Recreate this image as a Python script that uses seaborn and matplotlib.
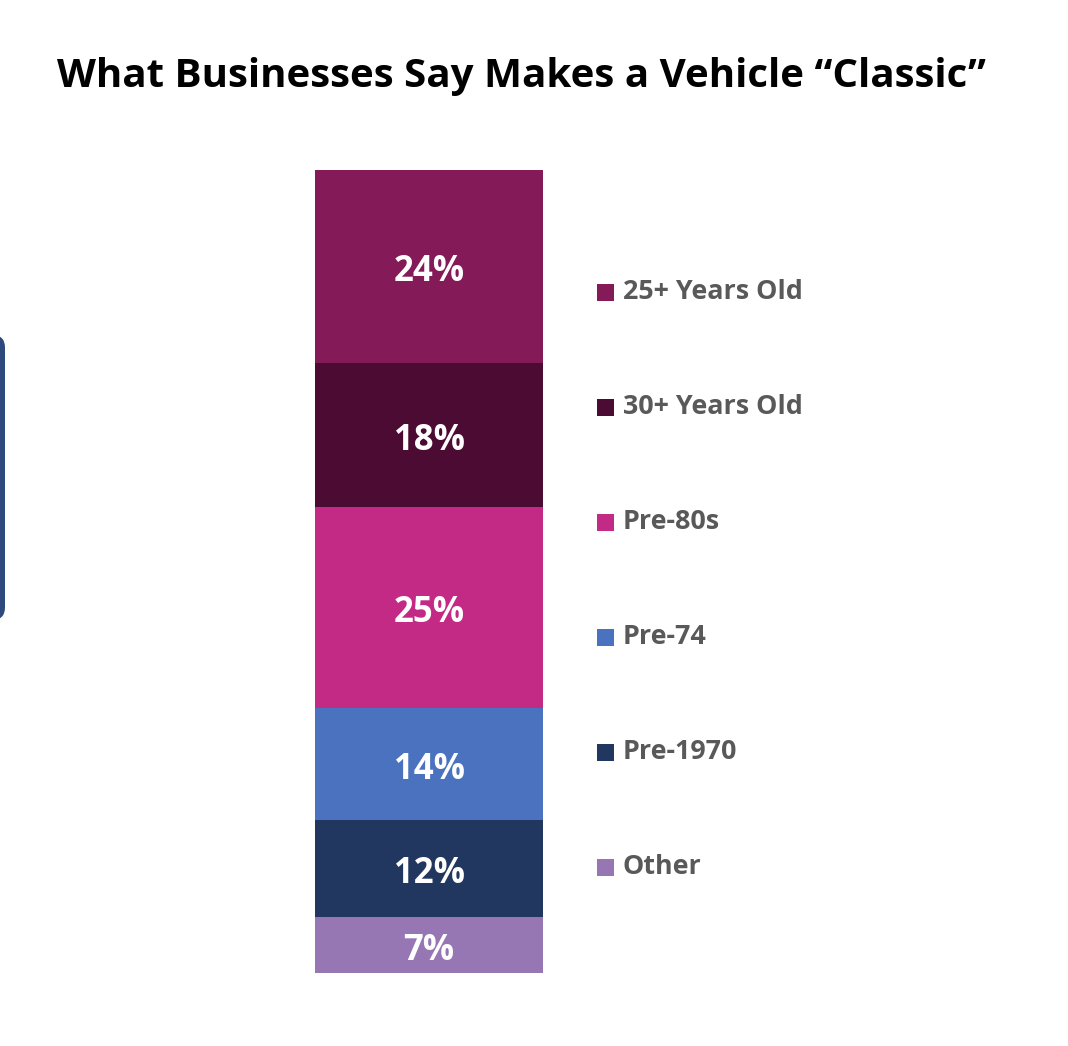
import matplotlib
matplotlib.use("Agg")
import matplotlib.pyplot as plt
from matplotlib.patches import FancyBboxPatch, Rectangle
import seaborn as sns
import pandas as pd
import numpy as np

# Data (bottom to top of the stack)
categories = ["Other", "Pre-1970", "Pre-74", "Pre-80s", "30+ Years Old", "25+ Years Old"]
values = [7, 12, 14, 25, 18, 24]
colors = ["#9677B4", "#22375F", "#4A72BE", "#C22A86", "#4C0B32", "#841A57"]
title = "What Businesses Say Makes a Vehicle \u201cClassic\u201d"

sns.set_theme(style="white")
plt.rcParams["font.family"] = ["Open Sans", "DejaVu Sans"]

W, H = 1068, 1046
fig = plt.figure(figsize=(W / 100, H / 100), dpi=100)

# Bar axes placed in pixel coordinates
bx0, bx1, by0, by1 = 315, 543, 170, 973
ax = fig.add_axes([bx0 / W, 1 - by1 / H, (bx1 - bx0) / W, (by1 - by0) / H])

cum = np.cumsum(values)
df = pd.DataFrame({"x": ["Classic"] * len(values), "top": cum, "cat": categories})
# draw cumulative bars from the tallest to the shortest so each overlays the previous
for i in range(len(values) - 1, -1, -1):
    sns.barplot(data=df.iloc[[i]], x="x", y="top", color=colors[i], width=1.0,
                saturation=1, ax=ax, linewidth=0, edgecolor="none")

ax.set_xlim(-0.5, 0.5)
ax.set_ylim(0, 100)
ax.axis("off")

bottoms = cum - np.array(values)
for v, b in zip(values, bottoms):
    ax.text(0, b + v / 2 - 0.7, f"{v}%", ha="center", va="center", color="white",
            fontsize=25, fontweight="bold")

# Legend (top to bottom)
leg_y = [292, 407, 522, 637, 752, 867]
for lab, col, y in zip(categories[::-1], colors[::-1], leg_y):
    fig.patches.append(Rectangle((597 / W, 1 - (y + 8.5) / H), 17 / W, 17 / H,
                                 transform=fig.transFigure, facecolor=col,
                                 edgecolor="none"))
    fig.text(623 / W, 1 - y / H, lab, ha="left", va="center", fontsize=19.4,
             fontweight="bold", color="#595959")

# Title
fig.text(57 / W, 1 - 76 / H, title, ha="left", va="center", fontsize=29,
         fontweight="bold", color="black")

# Cropped rounded box at the left edge
fig.patches.append(FancyBboxPatch((-200 / W, 1 - 620 / H), 205 / W, 285 / H,
                                  boxstyle="round,pad=0,rounding_size=0.012",
                                  transform=fig.transFigure, facecolor="#2E4A7D",
                                  edgecolor="none"))

fig.savefig("out.png", dpi=100, facecolor="white")
